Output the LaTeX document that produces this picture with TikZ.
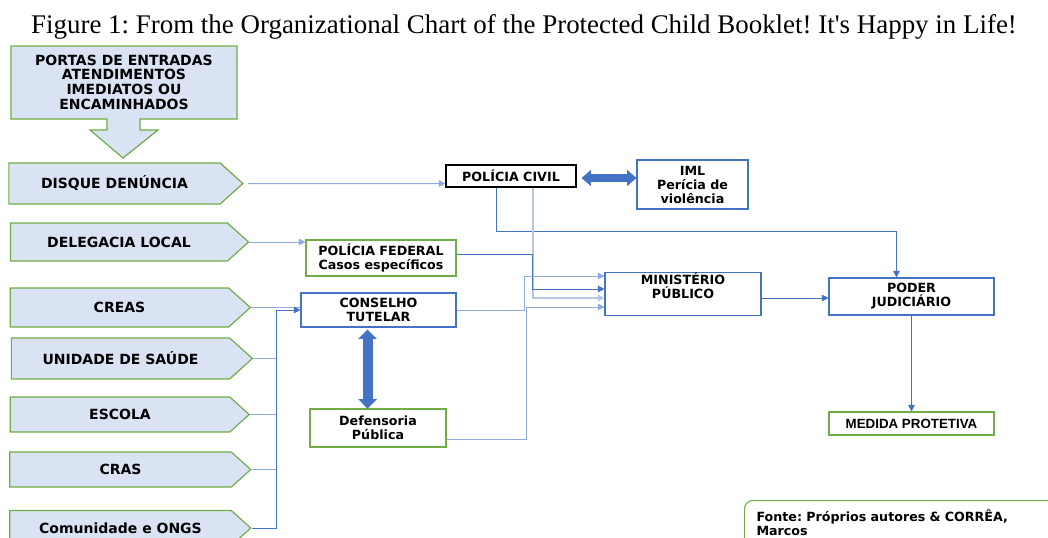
\documentclass[tikz,border=0pt]{standalone}
\usepackage{fontspec}
\setmainfont{Liberation Serif}
\newfontfamily\verdana{DejaVu Sans}
\newfontfamily\arial{Liberation Sans}
\usetikzlibrary{shapes.symbols,arrows.meta,calc}

\definecolor{boxfill}{HTML}{DAE3F3}
\definecolor{boxgreen}{HTML}{70AD47}
\definecolor{boxblue}{HTML}{4472C4}
\definecolor{linklight}{HTML}{8FAADC}
\definecolor{linkpale}{HTML}{B4C7E7}

\tikzset{
  entry/.style={signal, signal to=east, signal pointer angle=84,
    draw=boxgreen, fill=boxfill, line width=0.9pt, inner sep=0pt,
    font=\verdana\bfseries\fontsize{10.5}{11}\selectfont},
  unit/.style={rectangle, draw=boxblue, line width=0.8pt, inner sep=0pt,
    align=center, font=\verdana\bfseries\fontsize{9.5}{10.5}\selectfont},
  unitgreen/.style={unit, draw=boxgreen},
  link/.style={draw=boxblue, line width=0.75pt},
  linkl/.style={draw=linklight, line width=0.75pt},
  tip/.style={-{Triangle[length=5pt,width=5pt]}},
  bigarrow/.style={draw=boxblue, line width=#1,
    {Triangle[length=7pt,width=1.8*#1]}-{Triangle[length=7pt,width=1.8*#1]}}
}

\begin{document}
\frenchspacing
\begin{tikzpicture}[x=0.75pt, y=-0.75pt]
  \useasboundingbox (0,0) rectangle (1048,537);

  \node[font=\fontsize{20.2}{22}\selectfont] (title) at (524,27)
  {Figure 1: From the Organizational Chart of the Protected Child Booklet! It\textquotesingle s Happy in Life!};

  % entrance box with its down arrow
  \draw[draw=boxgreen, fill=boxfill, line width=0.9pt] (11,46) -- (237,46) -- (237,119)
  -- (140,119) -- (140,130) -- (158,130) -- (123,158) -- (90,130) -- (107,130)
  -- (107,119) -- (11,119) -- cycle;
  \node[font=\verdana\bfseries\fontsize{10.5}{11}\selectfont, align=center] (portas)
  at (124,82) {PORTAS DE ENTRADAS\\ATENDIMENTOS\\IMEDIATOS OU\\ENCAMINHADOS};

  % left column (x is the centre of the body, without the point)
  \foreach \name/\x/\y/\w/\h/\txt in {
    disque/114.5/183.5/234/41/DISQUE DENÚNCIA,
    delegacia/119/242/238/38/DELEGACIA LOCAL,
    creas/119.5/307.5/240/39/CREAS,
    unidade/120.5/358.5/241/41/UNIDADE DE SAÚDE,
    escola/120/414.5/239/35/ESCOLA,
    cras/120.5/469.5/241/35/CRAS,
    ongs/120.5/528/241/35/Comunidade e ONGS}{
    \node[entry, minimum width=\w*0.75pt, minimum height=\h*0.75pt] (\name) at (\x,\y) {\txt};
  }

  % organs
  \node[unit, draw=black, minimum width=130*0.75pt, minimum height=22*0.75pt] (civil)
  at (511,176) {POLÍCIA CIVIL};
  \node[unit, minimum width=111*0.75pt, minimum height=49*0.75pt] (iml)
  at (692.5,184.5) {IML\\Perícia de\\violência};
  \node[unitgreen, minimum width=150*0.75pt, minimum height=36*0.75pt] (federal)
  at (381,258) {POLÍCIA FEDERAL\\Casos específicos};
  \node[unit, minimum width=155*0.75pt, minimum height=34*0.75pt] (conselho)
  at (378.5,310) {CONSELHO\\TUTELAR};
  \node[unitgreen, minimum width=136*0.75pt, minimum height=38*0.75pt] (defensoria)
  at (378,428) {Defensoria\\Pública};
  \node[unit, minimum width=156*0.75pt, minimum height=38*0.75pt] (ministerio)
  at (683,294) {MINISTÉRIO\\PÚBLICO\\[2pt]};
  \node[unit, minimum width=165*0.75pt, minimum height=37*0.75pt] (poder)
  at (911.5,296.5) {PODER\\JUDICIÁRIO};
  \node[unitgreen, minimum width=165*0.75pt, minimum height=23*0.75pt,
  font=\arial\bfseries\fontsize{10}{11}\selectfont] (medida)
  at (911.5,423.5) {MEDIDA PROTETIVA};
  \node[draw=boxgreen, line width=0.8pt, rounded corners=6pt, anchor=north west,
  inner xsep=9pt, inner ysep=3pt, text width=290*0.75pt, minimum height=45*0.75pt,
  align=left, font=\verdana\bfseries\fontsize{9.5}{10.5}\selectfont] (fonte)
  at (744,500) {Fonte: Próprios autores \& CORRÊA,\\Marcos};

  % entrances to organs
  \draw[linkl, tip] ([xshift=3pt]disque.east) -- ($(civil.south west)+(0,-4)$);
  \draw[linkl, tip] (delegacia.east) -- (delegacia.east -| federal.west);
  \draw[linkl] (creas.east) -- (creas.east -| conselho.west);
  \coordinate (bus) at (276,310);
  \foreach \name in {unidade, escola, cras}
    \draw[linkl] (\name.east) -- (\name.east -| bus);
  \draw[link, tip] (ongs.east) -| (bus) -- (conselho.west);

  % towards ministerio and poder
  \draw[link, tip] ($(civil.south)+(-15,0)$) |- ($(poder.north)+(-15,-46)$)
  -- ($(poder.north)+(-15,0)$);
  \draw[draw=linkpale, line width=1.5pt, tip] ($(civil.south)+(22,0)$)
  |- ($(ministerio.west)+(0,4)$);
  \draw[link, tip] ($(federal.east)+(0,-4)$) -| ($(ministerio.west)+(-72,-5)$)
  -- ($(ministerio.west)+(0,-5)$);
  \draw[linkl, tip] (conselho.east) -| ($(ministerio.west)+(-80,-18)$)
  -- ($(ministerio.west)+(0,-18)$);
  \draw[linkl, tip] ($(defensoria.east)+(0,11)$) -| ($(ministerio.west)+(-78,13)$)
  -- ($(ministerio.west)+(0,13)$);
  \draw[link, tip] ($(ministerio.east)+(0,4)$) -- ($(poder.west)+(0,1.5)$);
  \draw[link, tip] (poder.south) -- (medida.north);

  % two-way links
  \draw[bigarrow=6.5pt] ($(civil.east)+(5,2)$) -- ($(iml.west |- civil.east)+(0,2)$);
  \draw[bigarrow=7.5pt] ($(conselho.south)+(-11,2)$) -- ($(conselho.south)+(-11,81)$);
\end{tikzpicture}
\end{document}
